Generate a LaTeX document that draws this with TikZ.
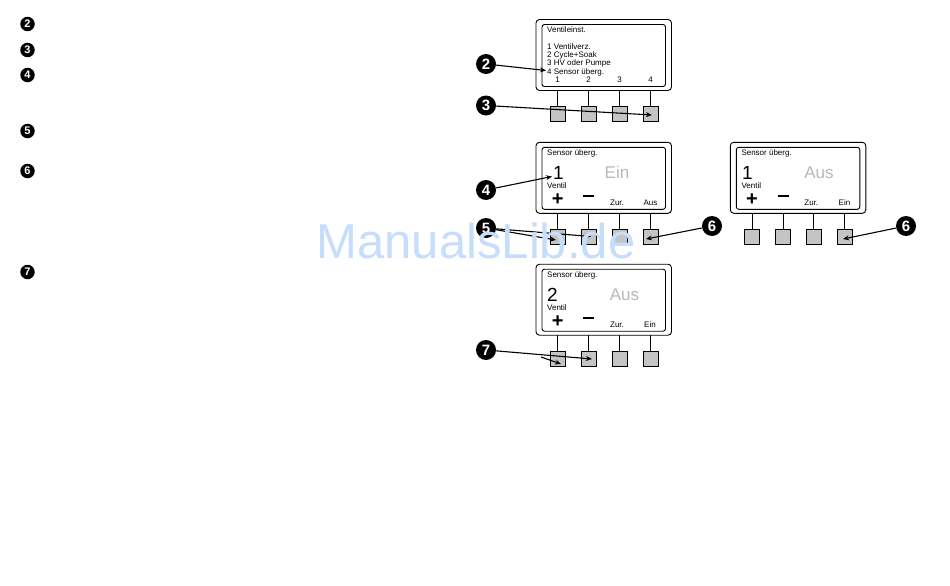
\documentclass[tikz,border=0pt]{standalone}
\usepackage{fontspec}
\setmainfont{Liberation Sans}
\usetikzlibrary{arrows.meta}
\definecolor{btn}{HTML}{C4C4C4}
\definecolor{wm}{HTML}{C6DDFB}
\tikzset{
  x=1pt,y=-1pt,
  outerbox/.style={draw=black,line width=0.9pt,rounded corners=3.5pt,fill=white},
  innerbox/.style={draw=black,line width=0.9pt,rounded corners=2.5pt},
  keybtn/.style={draw=black,fill=btn,line width=0.7pt,minimum size=15pt,inner sep=0pt},
  stem/.style={draw=black,line width=0.7pt},
  badge/.style={circle,fill=black,text=white,inner sep=0pt,minimum size=20pt,font=\bfseries\fontsize{15}{15}\selectfont},
  smallbadge/.style={circle,fill=black,text=white,inner sep=0pt,minimum size=14.5pt,font=\bfseries\fontsize{11}{11}\selectfont},
  ptr/.style={draw=black,line width=1.1pt,-{Stealth[length=6pt,width=5pt]},shorten >=0pt},
  lbl/.style={anchor=west,inner sep=0pt,font=\fontsize{8}{8}\selectfont},
  softkey/.style={anchor=center,inner sep=0pt,font=\fontsize{8}{8}\selectfont},
  sym/.style={anchor=center,inner sep=0pt,font=\bfseries\fontsize{20}{20}\selectfont},
  bignum/.style={anchor=west,inner sep=0pt,font=\fontsize{19}{19}\selectfont},
  state/.style={anchor=center,inner sep=0pt,text=black!28,font=\fontsize{17}{17}\selectfont},
}
\newcommand{\panelat}[3]{%
  % #1 prefix, #2 x offset, #3 top y of outer box
  \draw[outerbox] (536+#2,#3) rectangle (671.5+#2,#3+71);
  \draw[innerbox] (542+#2,#3+5) rectangle (665.5+#2,#3+67);
  \foreach \k/\cx in {a/557.7,b/588.7,c/619.5,d/650.5}{
    \node[keybtn] (#1\k) at (\cx+#2,#3+94.7) {};
    \coordinate (#1\k t) at (\cx+#2,#3+71);
    \draw[stem] (#1\k t) -- (#1\k.north);
  }
}
\begin{document}
\begin{tikzpicture}
\useasboundingbox (0,0) rectangle (950,586);
\fill[white] (0,0) rectangle (950,586);

% left column
\node[smallbadge] (l2) at (27.5,24) {2};
\node[smallbadge] (l3) at (27.5,50) {3};
\node[smallbadge] (l4) at (27.5,75) {4};
\node[smallbadge] (l5) at (27.5,131) {5};
\node[smallbadge] (l6) at (27.5,171) {6};
\node[smallbadge] (l7) at (27.5,272) {7};

% panel 1
\panelat{p}{0}{19.5}
\node[lbl] (t1) at (547,30) {Ventileinst.};
\node[lbl] (t2) at (547,46.5) {1 Ventilverz.};
\node[lbl] (t3) at (547,55) {2 Cycle+Soak};
\node[lbl] (t4) at (547,63.5) {3 HV oder Pumpe};
\node[lbl] (t5) at (547,72) {4 Sensor überg.};
\node[softkey] (s1) at (557.7,80) {1};
\node[softkey] (s2) at (588.7,80) {2};
\node[softkey] (s3) at (619.5,80) {3};
\node[softkey] (s4) at (650.5,80) {4};

% panel 2
\panelat{q}{0}{142.3}
\node[lbl] (q0) at (547,153.5) {Sensor überg.};
\node[bignum] (q1) at (553,172.5) {1};
\node[lbl] (q2) at (547,186) {Ventil};
\node[state] (q3) at (617,172.5) {Ein};
\node[sym] (q4) at (557.7,200) {+};
\node[sym] (q5) at (588.7,198.5) {\rule[0.25em]{0.55em}{1.6pt}};
\node[softkey] (q6) at (617,203) {Zur.};
\node[softkey] (q7) at (650.5,203) {Aus};

% panel 3
\panelat{r}{194.3}{142.3}
\node[lbl] (r0) at (741.3,153.5) {Sensor überg.};
\node[bignum] (r1) at (742,172.5) {1};
\node[lbl] (r2) at (741.3,186) {Ventil};
\node[state] (r3) at (819,172.5) {Aus};
\node[sym] (r4) at (752,200) {+};
\node[sym] (r5) at (783,198.5) {\rule[0.25em]{0.55em}{1.6pt}};
\node[softkey] (r6) at (811.3,203) {Zur.};
\node[softkey] (r7) at (844.5,203) {Ein};

% panel 4
\panelat{u}{0}{264.2}
\node[lbl] (u0) at (547,275.5) {Sensor überg.};
\node[bignum] (u1) at (547,294.5) {2};
\node[lbl] (u2) at (547,308) {Ventil};
\node[state] (u3) at (624.5,294.5) {Aus};
\node[sym] (u4) at (557.7,322) {+};
\node[sym] (u5) at (588.7,320.5) {\rule[0.25em]{0.55em}{1.6pt}};
\node[softkey] (u6) at (617,325) {Zur.};
\node[softkey] (u7) at (650,325) {Ein};

% big badges
\node[badge] (b2) at (486,64) {2};
\node[badge] (b3) at (486,105.5) {3};
\node[badge] (b4) at (486,190) {4};
\node[badge] (b5) at (486,228) {5};
\node[badge] (b6) at (712,226) {6};
\node[badge] (b6r) at (906,226) {6};
\node[badge] (b7) at (486,350) {7};

% pointers
\coordinate (e2) at (546,70.5);
\coordinate (e3) at (652,115);
\coordinate (e4) at (552,176.5);
\coordinate (e5) at (556,240);
\coordinate (e5b) at (591,236.5);
\coordinate (e6) at (646,239);
\coordinate (e6r) at (843,239);
\coordinate (e7a) at (561,364);
\coordinate (e7b) at (592,359);
\coordinate (j7) at (541,357);
\draw[ptr] (b2) -- (e2);
\draw[ptr] (b3) -- (e3);
\draw[ptr] (b4) -- (e4);
\draw[ptr] (b5) -- (e5);
\draw[ptr] (b5) -- (e5b);
\draw[ptr] (b6) -- (e6);
\draw[ptr] (b6r) -- (e6r);
\draw[ptr] (b7) -- (e7b);
\draw[ptr] (j7) -- (e7a);

% watermark
\node[anchor=center,inner sep=0pt,text=wm,font=\fontsize{49}{49}\selectfont] (wmark) at (476,241) {ManualsLib.de};
\end{tikzpicture}
\end{document}
